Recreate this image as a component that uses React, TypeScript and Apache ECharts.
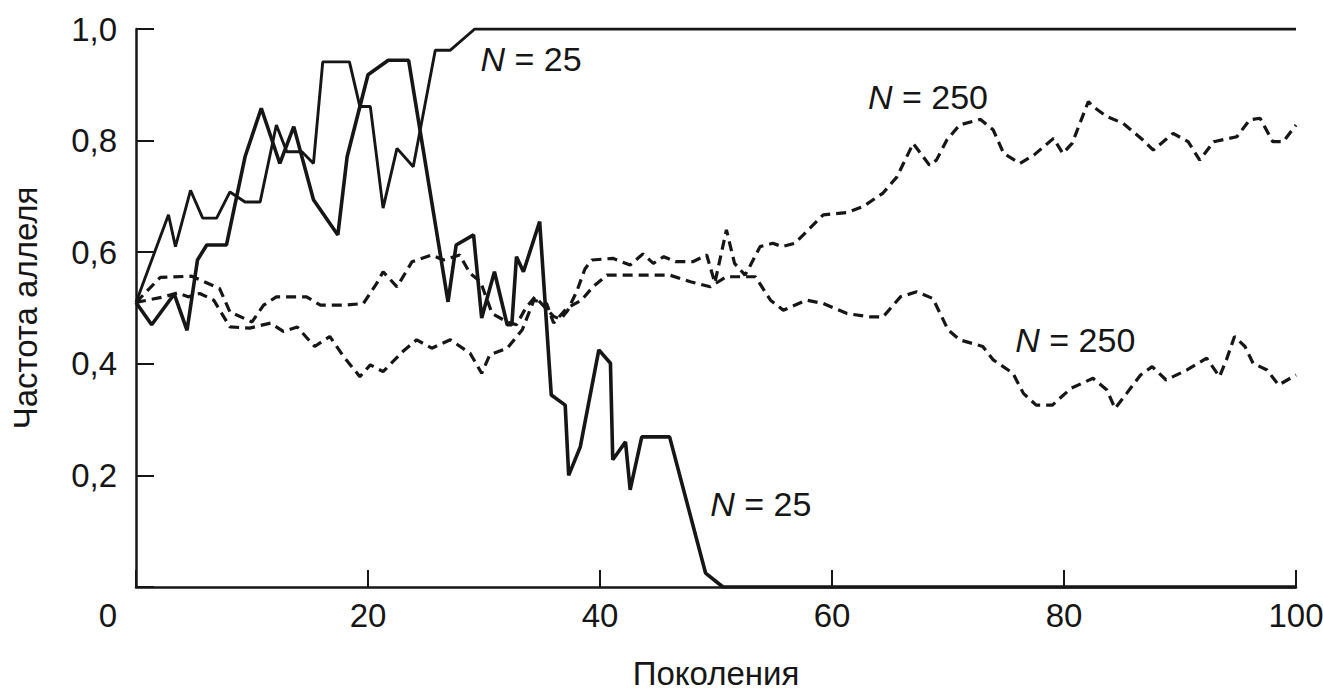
import React, { useEffect, useRef } from "react";
import * as echarts from "echarts";

// Generations (x) and allele frequency (y) pairs
const n25Fixed: [number, number][] = [
  [0, 0.51], [2.8, 0.667], [3.4, 0.61], [4.7, 0.711], [5.75, 0.661], [6.95, 0.661],
  [8.1, 0.708], [9.4, 0.69], [10.7, 0.69], [12.1, 0.828], [13.0, 0.78], [14.3, 0.78],
  [15.3, 0.759], [16.1, 0.941], [18.4, 0.941], [19.3, 0.861], [20.2, 0.861],
  [21.3, 0.679], [22.5, 0.786], [23.9, 0.753], [25.8, 0.962], [27.1, 0.962],
  [29.2, 1.0], [100, 1.0],
];

const n25Lost: [number, number][] = [
  [0, 0.51], [1.35, 0.47], [3.3, 0.525], [4.4, 0.46], [5.3, 0.586], [6.1, 0.613],
  [7.8, 0.613], [9.4, 0.771], [10.8, 0.858], [12.4, 0.759], [13.6, 0.825],
  [15.3, 0.694], [17.4, 0.631], [18.2, 0.771], [20.0, 0.918], [21.75, 0.944],
  [23.5, 0.944], [26.9, 0.511], [27.6, 0.613], [29.1, 0.631], [29.8, 0.482],
  [30.9, 0.565], [32.0, 0.47], [32.4, 0.47], [32.8, 0.592], [33.4, 0.565],
  [34.8, 0.655], [35.8, 0.344], [37.0, 0.326], [37.3, 0.2], [38.3, 0.251],
  [39.9, 0.425], [40.9, 0.401], [41.1, 0.228], [42.2, 0.26], [42.6, 0.174],
  [43.6, 0.269], [46.0, 0.269], [49.1, 0.025], [50.6, 0], [100, 0],
];

const n250High: [number, number][] = [
  [0, 0.51], [2.1, 0.555], [4.8, 0.557], [7.2, 0.535], [8.1, 0.493], [10, 0.475],
  [11, 0.505], [12.1, 0.52], [14.7, 0.52], [15.9, 0.505], [17.9, 0.505], [19.6, 0.508],
  [20.75, 0.544], [21.3, 0.565], [22.5, 0.538], [23.8, 0.583], [25.5, 0.595],
  [26.5, 0.586], [27.9, 0.595], [28.8, 0.562], [29.7, 0.547], [30.7, 0.49], [32, 0.475],
  [32.8, 0.47], [33.6, 0.5], [34.4, 0.52], [35.3, 0.5], [36, 0.485], [36.6, 0.48],
  [37.2, 0.495], [38, 0.53], [38.7, 0.57], [39.3, 0.586], [41.1, 0.589], [42.6, 0.577],
  [43.7, 0.597], [44.6, 0.58], [45.5, 0.592], [46.5, 0.583], [48, 0.583], [49.2, 0.595],
  [49.9, 0.545], [50.9, 0.64], [51.6, 0.58], [52.5, 0.559], [52.9, 0.574], [53.8, 0.61],
  [54.9, 0.616], [55.7, 0.61], [56.8, 0.616], [58.1, 0.643], [59.25, 0.667],
  [61.3, 0.671], [62.7, 0.682], [64.4, 0.706], [65.6, 0.735], [67, 0.795], [68.4, 0.756],
  [69, 0.765], [69.9, 0.801], [71, 0.828], [72.8, 0.838], [73.9, 0.819], [74.8, 0.777],
  [76.2, 0.759], [77.4, 0.774], [79.1, 0.804], [79.9, 0.777], [80.7, 0.795], [82.1, 0.87],
  [82.5, 0.861], [83.7, 0.843], [85.1, 0.831], [86.8, 0.801], [87.7, 0.783], [89.4, 0.813],
  [90.7, 0.798], [91.7, 0.765], [92.9, 0.798], [94.9, 0.807], [96, 0.837], [96.9, 0.84],
  [98, 0.798], [98.9, 0.798], [100, 0.828],
];

const n250Low: [number, number][] = [
  [0, 0.51], [2.4, 0.52], [3.6, 0.527], [4.5, 0.52], [5.5, 0.526], [6.7, 0.514],
  [8.1, 0.466], [9.8, 0.464], [11.6, 0.473], [12.7, 0.458], [13.9, 0.466], [15.4, 0.431],
  [16.7, 0.449], [17.9, 0.413], [19.3, 0.377], [20.2, 0.398], [21.3, 0.386], [23, 0.422],
  [24.2, 0.443], [25.5, 0.428], [27.1, 0.443], [28.8, 0.419], [29.8, 0.383], [30.5, 0.416],
  [32, 0.428], [33.3, 0.461], [34.3, 0.514], [35.4, 0.508], [36, 0.473], [37.1, 0.499],
  [38.4, 0.514], [39.4, 0.538], [40.6, 0.559], [46, 0.559], [47.8, 0.547], [49.5, 0.538],
  [50.9, 0.556], [53.4, 0.556], [54.7, 0.514], [55.8, 0.496], [57.8, 0.514], [59.25, 0.508],
  [61.3, 0.49], [63.3, 0.484], [64.4, 0.484], [65.9, 0.52], [67.3, 0.529], [68.7, 0.517],
  [70, 0.461], [71, 0.443], [73, 0.431], [73.9, 0.407], [75.6, 0.383], [76.5, 0.347],
  [77.6, 0.326], [79, 0.326], [80.6, 0.356], [82.5, 0.374], [83.7, 0.353], [84.4, 0.32],
  [85.4, 0.347], [86.6, 0.38], [87.6, 0.395], [88.8, 0.371], [90.6, 0.389], [92.3, 0.41],
  [93.4, 0.377], [94, 0.407], [94.7, 0.449], [95.6, 0.431], [96.3, 0.401], [97.5, 0.389],
  [98.5, 0.362], [100, 0.38],
];

// Population-size annotations: [generation, frequency, N]
const annotations: [number, number, number][] = [
  [29.7, 0.946, 25],
  [63.1, 0.878, 250],
  [75.8, 0.442, 250],
  [49.5, 0.149, 25],
];

const xTicks = { min: 0, max: 100, interval: 20 };
const yTicks = { min: 0, max: 1, interval: 0.2 };

const FONT = "'Liberation Sans', Arial, Helvetica, sans-serif";
const INK = "#161616";

export default function App() {
  const ref = useRef<HTMLDivElement>(null);

  useEffect(() => {
    if (!ref.current) return;
    const chart = echarts.init(ref.current, undefined, { renderer: "svg" });

    const solid = { color: INK, width: 2.9, type: "solid" as const };
    const dashed = { color: INK, width: 3.2, type: [10, 6] as any };

    chart.setOption({
      animation: false,
      backgroundColor: "#ffffff",
      grid: {
        left: 136,
        right: 27,
        top: 29,
        bottom: 107,
        containLabel: false,
        outerBoundsMode: "none",
      },
      xAxis: {
        type: "value",
        ...xTicks,
        name: "Поколения",
        nameLocation: "middle",
        nameGap: 70,
        nameTextStyle: { fontSize: 33, color: INK, fontFamily: FONT },
        axisLine: { show: true, onZero: false, lineStyle: { color: INK, width: 2.5 } },
        axisTick: { show: true, inside: true, length: 17, lineStyle: { color: INK, width: 2 } },
        axisLabel: {
          fontSize: 33,
          color: INK,
          fontFamily: FONT,
          margin: 12,
          formatter: (v: number) => (v === 0 ? "{o|0}" : String(v)),
          rich: { o: { fontSize: 33, color: INK, fontFamily: FONT, padding: [0, 56, 0, 0] } },
        },
        splitLine: { show: false },
      },
      yAxis: {
        type: "value",
        ...yTicks,
        name: "Частота аллеля",
        nameLocation: "middle",
        nameGap: 94,
        nameRotate: 90,
        nameTextStyle: { fontSize: 33, color: INK, fontFamily: FONT },
        axisLine: { show: true, onZero: false, lineStyle: { color: INK, width: 2.5 } },
        axisTick: { show: true, inside: true, length: 18, lineStyle: { color: INK, width: 2 } },
        axisLabel: {
          fontSize: 33,
          color: INK,
          fontFamily: FONT,
          margin: 19,
          formatter: (v: number) => (v === 0 ? "" : v.toFixed(1).replace(".", ",")),
        },
        splitLine: { show: false },
      },
      series: [
        {
          name: "N = 250 (a)",
          type: "line",
          symbol: "none",
          data: n250High,
          lineStyle: dashed,
          z: 2,
        },
        {
          name: "N = 250 (b)",
          type: "line",
          symbol: "none",
          data: n250Low,
          lineStyle: dashed,
          z: 2,
        },
        {
          name: "N = 25 (a)",
          type: "line",
          symbol: "none",
          data: n25Fixed,
          lineStyle: solid,
          z: 3,
          markPoint: {
            silent: true,
            symbol: "circle",
            symbolSize: 0,
            itemStyle: { color: "transparent" },
            label: {
              show: true,
              position: [0, 0],
              align: "left",
              verticalAlign: "middle",
              fontSize: 34,
              color: INK,
              fontFamily: FONT,
              formatter: (p: any) => `{i|N} = ${p.value}`,
              rich: { i: { fontStyle: "italic", fontSize: 34, color: INK, fontFamily: FONT } },
            },
            data: annotations.map(([x, y, n]) => ({ coord: [x, y], value: n })),
          },
        },
        {
          name: "N = 25 (b)",
          type: "line",
          symbol: "none",
          data: n25Lost,
          lineStyle: { ...solid, width: 3.6 },
          z: 4,
        },
      ],
    });

    return () => chart.dispose();
  }, []);

  return (
    <div
      ref={ref}
      style={{ position: "fixed", left: 0, top: 0, width: 1323, height: 694, background: "#fff" }}
    />
  );
}
